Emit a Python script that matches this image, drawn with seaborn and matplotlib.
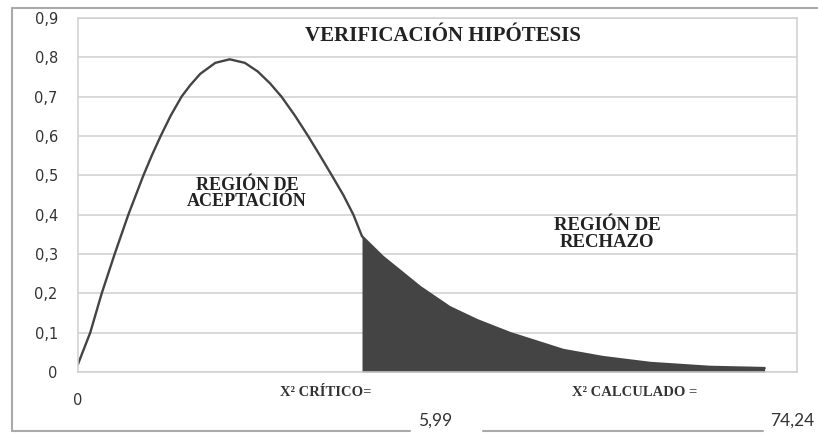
import matplotlib
matplotlib.use("Agg")
import matplotlib.pyplot as plt
import seaborn as sns
import pandas as pd
from matplotlib.lines import Line2D

# curva (x en unidades del eje, y densidad)
x_curva = [0.0, 0.17, 0.33, 0.51, 0.70, 0.91, 1.03, 1.15, 1.29, 1.44, 1.56, 1.70, 1.91,
           2.11, 2.32, 2.50, 2.67, 2.83, 3.02, 3.20, 3.37, 3.53, 3.69, 3.83, 3.95,
           4.24, 4.76, 5.17, 5.55, 6.01, 6.75, 7.30, 7.96, 8.79, 9.55]
y_curva = [0.02, 0.10, 0.20, 0.30, 0.40, 0.50, 0.552, 0.60, 0.652, 0.70, 0.729, 0.758, 0.786,
           0.795, 0.786, 0.764, 0.734, 0.70, 0.651, 0.60, 0.549, 0.50, 0.45, 0.40, 0.345,
           0.293, 0.216, 0.165, 0.132, 0.099, 0.056, 0.038, 0.023, 0.013, 0.010]
inicio_rechazo = 24  # indice del punto critico

y_ticks = [0, 0.1, 0.2, 0.3, 0.4, 0.5, 0.6, 0.7, 0.8, 0.9]
y_etiquetas = ["0", "0,1", "0,2", "0,3", "0,4", "0,5", "0,6", "0,7", "0,8", "0,9"]

titulo = "VERIFICACIÓN HIPÓTESIS"
txt_aceptacion = "REGIÓN DE\nACEPTACIÓN"
txt_rechazo = "REGIÓN DE\nRECHAZO"
txt_critico = "X² CRÍTICO="
txt_calculado = "X² CALCULADO ="
valor_critico = "5,99"
valor_calculado = "74,24"

sns.set_style("white")
plt.rcParams["font.family"] = ["DejaVu Sans"]

df = pd.DataFrame({"x": x_curva, "y": y_curva})

fig = plt.figure(figsize=(8.18, 4.33), dpi=100)
ax = fig.add_axes([78 / 818, 1 - 372 / 433, (797 - 78) / 818, (372 - 18) / 433])

gris = "#d0d0d0"
oscuro = "#444444"

ax.fill_between(x_curva[inicio_rechazo:], 0, y_curva[inicio_rechazo:], color=oscuro, lw=0)
sns.lineplot(data=df, x="x", y="y", ax=ax, color=oscuro, lw=1.7, sort=False)

ax.set_xlim(0, 10)
ax.set_ylim(0, 0.9)
ax.set_yticks(y_ticks)
ax.set_yticklabels(y_etiquetas)
ax.set_xticks([0])
ax.set_xticklabels(["0"])
ax.set_xlabel("")
ax.set_ylabel("")
ax.grid(axis="y", color=gris, lw=1.1)
ax.set_axisbelow(True)
for s in ax.spines.values():
    s.set_color(gris)
    s.set_linewidth(1.1)
ax.tick_params(axis="y", length=4.5, color=gris, pad=10, labelsize=10.5, labelcolor="#333333")
ax.tick_params(axis="x", length=4, color=gris, pad=11, labelsize=10.5, labelcolor="#333333")

serif = ["Liberation Serif", "DejaVu Serif"]
ax.text(5.08, 0.855, titulo, ha="center", va="center", fontsize=15, fontweight="bold",
        family=serif, color="#222222")
ax.text(2.35, 0.453, txt_aceptacion, ha="center", va="center", fontsize=13,
        fontweight="bold", family=serif, color="#222222", linespacing=0.95)
ax.text(7.36, 0.351, txt_rechazo, ha="center", va="center", fontsize=13.5,
        fontweight="bold", family=serif, color="#222222", linespacing=0.95)

fig.text(280 / 818, 1 - 393 / 433, txt_critico, ha="left", va="center", fontsize=10.5,
         fontweight="bold", family=serif, color="#333333")
fig.text(572 / 818, 1 - 392 / 433, txt_calculado, ha="left", va="center", fontsize=10.5,
         fontweight="bold", family=serif, color="#333333")
estrecha = ["Liberation Sans Narrow", "Lato"]
fig.text(435 / 818, 1 - 421 / 433, valor_critico, ha="center", va="center", fontsize=12.5,
         color="#333333", family=estrecha)
fig.text(792 / 818, 1 - 421 / 433, valor_calculado, ha="center", va="center", fontsize=12.5,
         color="#333333", family=estrecha)

borde = "#aaaaaa"
yb = 1 - 431 / 433
yt = 1 - 8 / 433
xl = 12 / 818
fig.add_artist(Line2D([xl, xl], [yb, yt], color=borde, lw=1.5))
fig.add_artist(Line2D([xl, 1.0], [yt, yt], color=borde, lw=1.5))
fig.add_artist(Line2D([xl, 410 / 818], [yb, yb], color=borde, lw=1.5))
fig.add_artist(Line2D([483 / 818, 763 / 818], [yb, yb], color=borde, lw=1.5))

fig.savefig("out.png", dpi=100)
